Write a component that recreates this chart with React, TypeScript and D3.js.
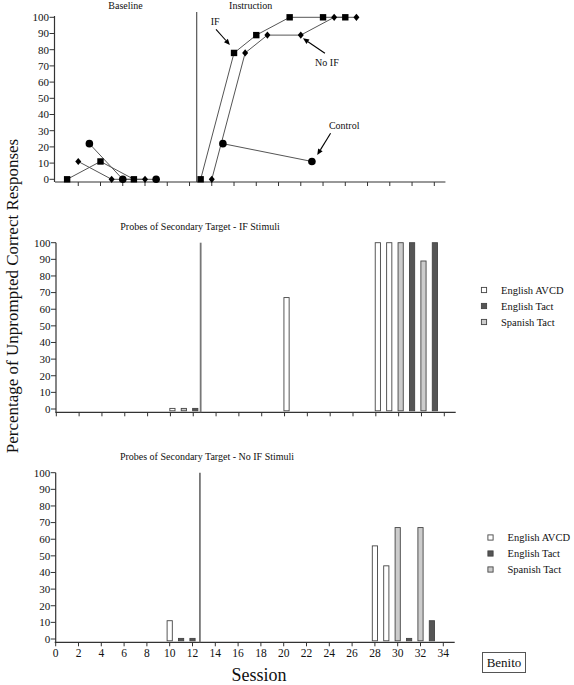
import * as d3 from "d3";
import React from 'react'

// ---- data ----
const yTicks = [0, 10, 20, 30, 40, 50, 60, 70, 80, 90, 100]
const xTicks = d3.range(0, 35, 2)
const phaseChange = 12.65

// top panel: sessions / percentages, baseline and instruction separated
const ifBaseSessions = [1, 4, 7]
const ifBaseValues = [0, 11, 0]
const ifInstrSessions = [13, 16, 18, 21, 24, 26]
const ifInstrValues = [0, 78, 89, 100, 100, 100]
const noIfBaseSessions = [2, 5, 8]
const noIfBaseValues = [11, 0, 0]
const noIfInstrSessions = [14, 17, 19, 22, 25, 27]
const noIfInstrValues = [0, 78, 89, 89, 100, 100]
const controlBaseSessions = [3, 6, 9]
const controlBaseValues = [22, 0, 0]
const controlInstrSessions = [15, 23]
const controlInstrValues = [22, 11]

// probe panels: 0 = English AVCD, 1 = English Tact, 2 = Spanish Tact
const probeSessions = [10, 11, 12, 20, 28, 29, 30, 31, 32, 33]
const ifProbeValues = [0, 0, 0, 67, 100, 100, 100, 100, 89, 100]
const ifProbeTypes = [0, 2, 1, 0, 0, 0, 2, 1, 2, 1]
const noIfProbeSessions = [10, 11, 12, 28, 29, 30, 31, 32, 33]
const noIfProbeValues = [11, 0, 0, 56, 44, 67, 0, 67, 11]
const noIfProbeTypes = [0, 1, 1, 0, 0, 2, 1, 2, 1]

const legendLabels = ["English AVCD", "English Tact", "Spanish Tact"]
const legendFills = ["#ffffff", "#555555", "#cccccc"]

const FONT = "'Liberation Serif', 'Times New Roman', serif"
const INK = "#111"

type Pt = [number, number]
const zip = (s: number[], v: number[]): Pt[] => s.map((d, i) => [d, v[i]])

const App: React.FC = () => {
  // scales
  const xTop = d3.scaleLinear([0, 34], [56, 434.3])
  const yTop = d3.scaleLinear([0, 100], [179.3, 17.3])
  const xMid = d3.scaleLinear([0, 34], [56.3, 444.3])
  const yMid = d3.scaleLinear([0, 100], [409, 242.7])
  const xBot = d3.scaleLinear([0, 34], [55.7, 443.3])
  const yBot = d3.scaleLinear([0, 100], [639, 472.7])

  const lineTop = d3.line<Pt>().x(d => xTop(d[0])).y(d => yTop(d[1]))

  const yAxis = (ys: d3.ScaleLinear<number, number>, x0: number, top: number, bottom: number) => (
    <g>
      <line x1={x0} x2={x0} y1={top} y2={bottom} stroke="#333" strokeWidth={1.2} />
      {yTicks.map(t => (
        <g key={t}>
          <line x1={x0 - 5} x2={x0} y1={ys(t)} y2={ys(t)} stroke="#333" strokeWidth={1} />
          <text x={x0 - 5.5} y={ys(t)} dy="0.35em" textAnchor="end" fontSize={11} fill={INK}>{t}</text>
        </g>
      ))}
    </g>
  )

  const xAxis = (xs: d3.ScaleLinear<number, number>, y0: number, labels: boolean, skipZero: boolean) => (
    <g>
      <line x1={xs(0) - 1} x2={xs(35)} y1={y0} y2={y0} stroke="#333" strokeWidth={1.2} />
      {xTicks.filter(t => !(skipZero && t === 0)).map(t => (
        <g key={t}>
          <line x1={xs(t)} x2={xs(t)} y1={y0} y2={y0 + 4} stroke="#333" strokeWidth={1} />
          {labels && <text x={xs(t)} y={y0 + 15} textAnchor="middle" fontSize={11.5} fill={INK}>{t}</text>}
        </g>
      ))}
    </g>
  )

  const square = (p: Pt, k: string) => (
    <rect key={k} x={xTop(p[0]) - 3.2} y={yTop(p[1]) - 3.2} width={6.4} height={6.4} fill="#000" />
  )
  const diamond = (p: Pt, k: string) => {
    const cx = xTop(p[0]), cy = yTop(p[1])
    return <polygon key={k} points={`${cx},${cy - 3.6} ${cx + 3},${cy} ${cx},${cy + 3.6} ${cx - 3},${cy}`} fill="#000" />
  }
  const circle = (p: Pt, k: string) => (
    <circle key={k} cx={xTop(p[0])} cy={yTop(p[1])} r={3.8} fill="#000" />
  )

  const arrow = (from: Pt, to: Pt, k: string) => {
    const x1 = xTop(from[0]), y1 = yTop(from[1]), x2 = xTop(to[0]), y2 = yTop(to[1])
    const a = Math.atan2(y2 - y1, x2 - x1)
    const L = 6, W = 2.6
    const bx = x2 - L * Math.cos(a), by = y2 - L * Math.sin(a)
    const p1 = `${bx + W * Math.sin(a)},${by - W * Math.cos(a)}`
    const p2 = `${bx - W * Math.sin(a)},${by + W * Math.cos(a)}`
    return (
      <g key={k}>
        <line x1={x1} y1={y1} x2={bx} y2={by} stroke="#000" strokeWidth={1.1} />
        <polygon points={`${x2},${y2} ${p1} ${p2}`} fill="#000" />
      </g>
    )
  }

  const bars = (xs: d3.ScaleLinear<number, number>, ys: d3.ScaleLinear<number, number>,
    sessions: number[], values: number[], types: number[], shift: number) =>
    sessions.map((s, i) => {
      const top = values[i] === 0 ? ys(0) - 0.6 : ys(values[i])
      const bottom = ys(0) + 1.8
      return (
        <rect key={s} x={xs(s) - 2.6 + shift} y={top} width={5.2} height={bottom - top}
          fill={legendFills[types[i]]} stroke="#444" strokeWidth={0.9} />
      )
    })

  const legend = (x: number, y: number) => (
    <g>
      {legendLabels.map((l, i) => (
        <g key={l} transform={`translate(${x}, ${y + i * 16})`}>
          <rect x={-2.6} y={-2.6} width={5.2} height={5.2} fill={legendFills[i]} stroke="#444" strokeWidth={0.9} />
          <text x={17} y={0} dy="0.35em" fontSize={10.5} fill={INK}>{l}</text>
        </g>
      ))}
    </g>
  )

  return (
    <svg width={574} height={685} style={{ position: 'absolute', left: 0, top: 0, background: '#fff' }} fontFamily={FONT}>
      {/* ---------- top panel ---------- */}
      <text x={xTop(6.25)} y={8.5} textAnchor="middle" fontSize={10} fill={INK}>Baseline</text>
      <text x={xTop(17.5)} y={8.5} textAnchor="middle" fontSize={10} fill={INK}>Instruction</text>
      {yAxis(yTop, 54.5, 16, 182)}
      {xAxis(xTop, 182, false, true)}
      <line x1={xTop(phaseChange)} x2={xTop(phaseChange)} y1={12} y2={182} stroke="#333" strokeWidth={1} />
      {[
        zip(ifBaseSessions, ifBaseValues), zip(ifInstrSessions, ifInstrValues),
        zip(noIfBaseSessions, noIfBaseValues), zip(noIfInstrSessions, noIfInstrValues),
        zip(controlBaseSessions, controlBaseValues), zip(controlInstrSessions, controlInstrValues),
      ].map((pts, i) => (
        <path key={i} d={lineTop(pts) || ""} fill="none" stroke="#555" strokeWidth={1} />
      ))}
      {zip(ifBaseSessions, ifBaseValues).concat(zip(ifInstrSessions, ifInstrValues)).map((p, i) => square(p, "s" + i))}
      {zip(noIfBaseSessions, noIfBaseValues).concat(zip(noIfInstrSessions, noIfInstrValues)).map((p, i) => diamond(p, "d" + i))}
      {zip(controlBaseSessions, controlBaseValues).concat(zip(controlInstrSessions, controlInstrValues)).map((p, i) => circle(p, "c" + i))}
      <text x={xTop(14.3)} y={yTop(97.3)} dy="0.35em" textAnchor="middle" fontSize={10} fill={INK}>IF</text>
      {arrow([14.38, 92.6], [15.63, 82.9], "a1")}
      <text x={xTop(24.35)} y={yTop(72.4)} dy="0.35em" textAnchor="middle" fontSize={10} fill={INK}>No IF</text>
      {arrow([24.17, 77.8], [22.2, 87], "a2")}
      <text x={xTop(25.9)} y={yTop(33.1)} dy="0.35em" textAnchor="middle" fontSize={10} fill={INK}>Control</text>
      {arrow([24.68, 28.4], [23.48, 15], "a3")}

      {/* ---------- middle panel ---------- */}
      <text x={200} y={230} textAnchor="middle" fontSize={10} fill={INK}>Probes of Secondary Target - IF Stimuli</text>
      {yAxis(yMid, 56, 242.7, 412.3)}
      {xAxis(xMid, 412.3, false, false)}
      <line x1={xMid(phaseChange)} x2={xMid(phaseChange)} y1={yMid(100)} y2={412.3} stroke="#777" strokeWidth={1.8} />
      {bars(xMid, yMid, probeSessions, ifProbeValues, ifProbeTypes, 2)}
      {legend(484, 290)}

      {/* ---------- bottom panel ---------- */}
      <text x={207} y={460} textAnchor="middle" fontSize={10} fill={INK}>Probes of Secondary Target - No IF Stimuli</text>
      {yAxis(yBot, 55.7, 472.7, 642.3)}
      {xAxis(xBot, 642.3, true, false)}
      <line x1={xBot(phaseChange)} x2={xBot(phaseChange)} y1={yBot(100)} y2={642.3} stroke="#777" strokeWidth={1.8} />
      {bars(xBot, yBot, noIfProbeSessions, noIfProbeValues, noIfProbeTypes, 0)}
      {legend(490.5, 537.5)}

      {/* ---------- labels ---------- */}
      <text x={259} y={680.5} textAnchor="middle" fontSize={18} fill={INK}>Session</text>
      <text transform="translate(18, 296) rotate(-90)" textAnchor="middle" fontSize={17} fill={INK}>
        Percentage of Unprompted Correct Responses
      </text>
      <rect x={482.5} y={652.5} width={43} height={20} fill="#fff" stroke="#555" strokeWidth={1} />
      <text x={504} y={662.5} dy="0.35em" textAnchor="middle" fontSize={13} fill={INK}>Benito</text>
    </svg>
  )
}

export default App
